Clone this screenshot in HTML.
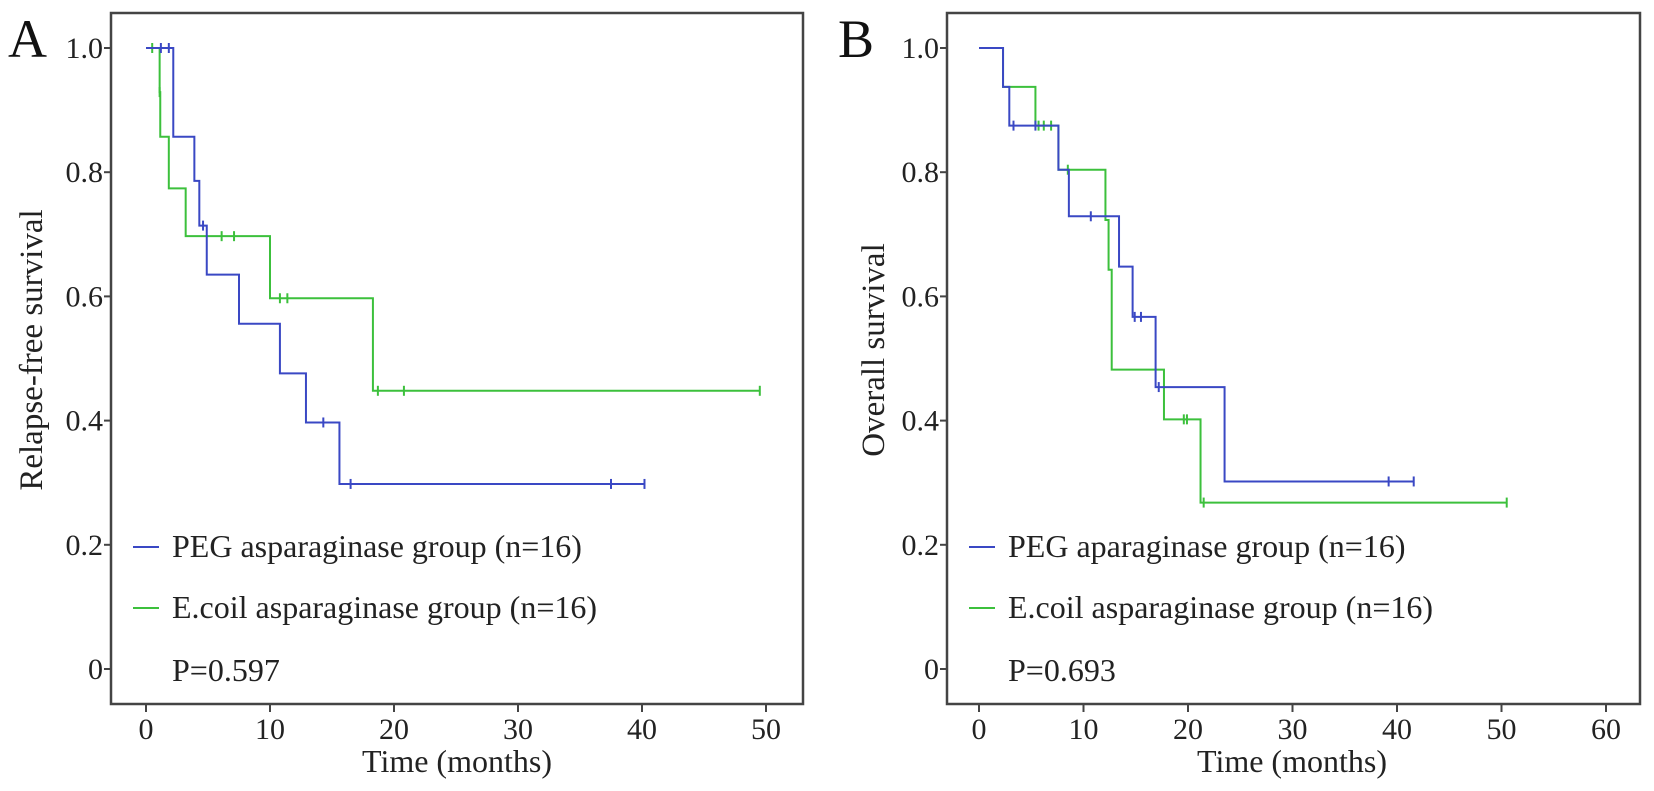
<!DOCTYPE html>
<html><head><meta charset="utf-8"><style>
html,body{margin:0;padding:0;background:#fff;}
svg{display:block;font-family:"Liberation Serif",serif;}
</style></head><body>
<svg id="chart" width="1654" height="791" viewBox="0 0 1654 791"></svg>
<script>
// Panel A data (time in months, survival)
const aBlueSteps = [[0,1.0],[2.2,0.857],[3.9,0.786],[4.3,0.714],[4.9,0.635],[7.5,0.556],[10.8,0.476],[12.9,0.397],[15.6,0.298]];
const aBlueEnd = 40.2;
const aBlueCensor = [1.2,1.84,4.6,14.3,16.5,37.5,40.2];
const aGreenSteps = [[0,1.0],[1.1,0.929],[1.15,0.857],[1.84,0.774],[3.2,0.697],[10.0,0.597],[18.3,0.448]];
const aGreenEnd = 49.5;
const aGreenCensor = [0.5,1.1,6.1,7.1,10.8,11.4,18.7,20.8,49.5];
// Panel B data
const bBlueSteps = [[0,1.0],[2.3,0.9375],[2.9,0.875],[7.6,0.804],[8.6,0.729],[13.4,0.648],[14.7,0.567],[16.9,0.454],[23.5,0.302]];
const bBlueEnd = 41.6;
const bBlueCensor = [3.3,5.4,10.7,14.9,15.5,17.2,39.2,41.6];
const bGreenSteps = [[0,1.0],[2.3,0.9375],[5.4,0.875],[7.6,0.804],[12.1,0.723],[12.4,0.643],[12.7,0.482],[17.7,0.402],[21.2,0.268]];
const bGreenEnd = 50.5;
const bGreenCensor = [5.7,6.2,6.9,8.5,19.6,19.9,21.5,50.5];
const yTicks = [0,0.2,0.4,0.6,0.8,1.0];
const yTickLabels = ["0","0.2","0.4","0.6","0.8","1.0"];
const aXTicks = [0,10,20,30,40,50];
const bXTicks = [0,10,20,30,40,50,60];

const NS="http://www.w3.org/2000/svg";
const svg=document.getElementById('chart');
const BLUE="#3a48c4", GREEN="#3cc03c", AX="#444";
const Y0=669, YS=621, FB=704, FT=13;
function mk(tag,attrs,parent){const e=document.createElementNS(NS,tag);for(const k in attrs)e.setAttribute(k,attrs[k]);(parent||svg).appendChild(e);return e;}
function txt(s,attrs,parent){const e=mk('text',attrs,parent);e.textContent=s;return e;}

function panel(cfg){
  const g=mk('g',{});
  
  
  const X=v=>cfg.x0+v*cfg.xs;
  const Y=v=>Y0-v*YS;
  const fr=mk('rect',{x:cfg.left,y:FT,width:cfg.right-cfg.left,height:FB-FT,fill:'none',stroke:AX,'stroke-width':2.5},g);
  
  
  yTicks.forEach((t,i)=>{
    const l=mk('line',{x1:cfg.left-7,x2:cfg.left,y1:Y(t),y2:Y(t),stroke:AX,'stroke-width':2},g);
    
    
    const tx=txt(yTickLabels[i],{x:cfg.left-8,y:Y(t)+10,'text-anchor':'end','font-size':30,fill:'#222'},g);
    
    
  });
  cfg.xticks.forEach(t=>{
    const l=mk('line',{x1:X(t),x2:X(t),y1:FB,y2:FB+8,stroke:AX,'stroke-width':2},g);
    
    
    const tx=txt(String(t),{x:X(t),y:739,'text-anchor':'middle','font-size':30,fill:'#222'},g);
    
    
  });
  const xt=txt('Time (months)',{x:cfg.xtx,y:772,'text-anchor':'middle','font-size':32,fill:'#222'},g);
  
  
  const yt=txt(cfg.ytitle,{x:0,y:0,'text-anchor':'middle','font-size':33,fill:'#222',transform:`translate(${cfg.ytx},350) rotate(-90)`},g);
  
  
  const lt=txt(cfg.letter,{x:cfg.letterX,y:57,'font-size':54,fill:'#111'},g);
  
  
  function curve(steps,end,cens,color,nm){
    let d=`M${X(steps[0][0])},${Y(steps[0][1])}`;
    for(let i=1;i<steps.length;i++){d+=` H${X(steps[i][0])} V${Y(steps[i][1])}`;}
    d+=` H${X(end)}`;
    const p=mk('path',{d,fill:'none',stroke:color,'stroke-width':2},g);
    
    
    cens.forEach(c=>{
      let s=steps[0][1];
      for(const st of steps){if(st[0]<=c)s=st[1];}
      const m=mk('line',{x1:X(c),x2:X(c),y1:Y(s)-5,y2:Y(s)+5,stroke:color,'stroke-width':2},g);
      
      
    });
  }
  curve(cfg.green,cfg.greenEnd,cfg.greenC,GREEN,'ecoli');
  curve(cfg.blue,cfg.blueEnd,cfg.blueC,BLUE,'peg');
  const leg=[[cfg.l1,BLUE,557],[cfg.l2,GREEN,618]];
  leg.forEach(([s,c,y],i)=>{
    const l=mk('line',{x1:cfg.left+22,x2:cfg.left+48,y1:y-10,y2:y-10,stroke:c,'stroke-width':2},g);
    
    
    const t=txt(s,{x:cfg.left+61,y:y,'font-size':32,fill:'#222'},g);
    
    
  });
  const pv=txt(cfg.p,{x:cfg.left+61,y:681,'font-size':32,fill:'#222'},g);
  
  
}
panel({name:'panel-a',left:111,right:803,x0:146,xs:12.4,xticks:aXTicks,xtx:457,ytitle:'Relapse-free survival',ytx:42,letter:'A',letterX:8,
  blue:aBlueSteps,blueEnd:aBlueEnd,blueC:aBlueCensor,green:aGreenSteps,greenEnd:aGreenEnd,greenC:aGreenCensor,
  l1:'PEG asparaginase group (n=16)',l2:'E.coil asparaginase group (n=16)',p:'P=0.597'});
panel({name:'panel-b',left:947,right:1640,x0:979,xs:10.45,xticks:bXTicks,xtx:1292,ytitle:'Overall survival',ytx:884,letter:'B',letterX:838,
  blue:bBlueSteps,blueEnd:bBlueEnd,blueC:bBlueCensor,green:bGreenSteps,greenEnd:bGreenEnd,greenC:bGreenCensor,
  l1:'PEG aparaginase group (n=16)',l2:'E.coil asparaginase group (n=16)',p:'P=0.693'});
</script>
</body></html>
